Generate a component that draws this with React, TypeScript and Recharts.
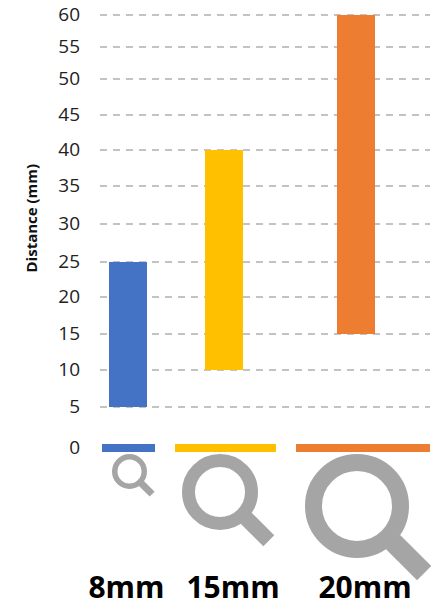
import { ComposedChart, Bar, Cell, XAxis, YAxis, CartesianGrid, ReferenceArea, ReferenceDot } from "recharts";

// tool sizes and their measured distance ranges (mm)
const toolNames = ["8mm", "15mm", "20mm"];
const lowValues = [5, 10, 15];
const highValues = [25, 40, 60];
const barColors = ["#4472C4", "#FFC000", "#ED7D31"];

// horizontal layout, in axis units from the left end of the gridlines
const barCenters = [28, 124, 256];
const stripStart = [2, 75, 196];
const stripEnd = [55, 176, 330];
const lensCenters = [29.5, 120, 257];
const labelCenters = [26.5, 133, 265];

const lensRadius = [14.75, 31.5, 43.5];
const lensRing = [5.5, 13, 17];
const handleEnd = [14.5, 31, 43];
const handleWidth = [7, 15.5, 20];

const yTicks = [0, 5, 10, 15, 20, 25, 30, 35, 40, 45, 50, 55, 60];
const gridValues = [5, 10, 15, 20, 25, 30, 35, 40, 45, 50, 55, 60];
// the axis is hand spaced, so each tick has its own pixel row
const tickRows = [448, 407, 370, 334, 297, 262, 224, 186, 150, 115, 79, 47, 15];

const chartData = toolNames.map((name, i) => ({
  name,
  pos: barCenters[i],
  range: [lowValues[i], highValues[i]],
}));

// piecewise axis scale running through the tick rows
function makeScale(): any {
  const toRow = (v: number) => {
    if (v <= yTicks[0]) return tickRows[0] - (v - yTicks[0]) * 8;
    for (let i = 1; i < yTicks.length; i++) {
      if (v <= yTicks[i]) {
        const t = (v - yTicks[i - 1]) / (yTicks[i] - yTicks[i - 1]);
        return tickRows[i - 1] + t * (tickRows[i] - tickRows[i - 1]);
      }
    }
    return tickRows[tickRows.length - 1];
  };
  const scale: any = (v: number) => toRow(v);
  let dom = [-1, 60];
  let rng = [448, 15];
  scale.domain = (d?: number[]) => (d ? ((dom = d), scale) : dom);
  scale.range = (r?: number[]) => (r ? ((rng = r), scale) : rng);
  scale.copy = () => makeScale();
  scale.ticks = () => yTicks;
  return scale;
}

function Magnifier({ cx, index }: any) {
  const row = 454;
  const r = lensRadius[index];
  const ring = lensRing[index];
  const outer = r + ring / 2;
  const cy = row + outer;
  const d = Math.SQRT1_2;
  const end = outer + handleEnd[index];
  return (
    <g>
      <line
        x1={cx + (outer - 1) * d}
        y1={cy + (outer - 1) * d}
        x2={cx + end * d}
        y2={cy + end * d}
        stroke="#A5A5A5"
        strokeWidth={handleWidth[index]}
      />
      <circle cx={cx} cy={cy} r={r} fill="none" stroke="#A5A5A5" strokeWidth={ring} />
    </g>
  );
}

function ToolLabel({ cx, index }: any) {
  return (
    <text x={cx} y={598} textAnchor="middle" fontFamily="'Open Sans', sans-serif" fontWeight={700} fontSize={30} fill="#000">
      {toolNames[index]}
    </text>
  );
}

export default function App() {
  return (
    <div style={{ position: "absolute", left: 0, top: 0, width: 441, height: 603, background: "#fff" }}>
      <ComposedChart
        width={441}
        height={603}
        data={chartData}
        margin={{ top: 15, right: 11, bottom: 155, left: 0 }}
        style={{ overflow: "visible" }}
      >
        <CartesianGrid
          vertical={false}
          horizontalValues={gridValues}
          stroke="#B0B0B0"
          strokeWidth={1.5}
          strokeDasharray="7 6"
        />
        <XAxis type="number" dataKey="pos" domain={[0, 330]} hide />
        <YAxis
          type="number"
          width={100}
          domain={[-1, 60]}
          scale={makeScale()}
          ticks={yTicks}
          interval={0}
          axisLine={false}
          tickLine={false}
          tickMargin={14}
          tick={{ fontSize: 19, fontFamily: "'Open Sans', sans-serif", fill: "#222", dy: -1 }}
          label={{
            value: "Distance (mm)",
            angle: -90,
            position: "insideLeft",
            fontSize: 15,
            fontWeight: 700,
            fontFamily: "'Open Sans', sans-serif",
            fill: "#111",
            dx: 27,
            dy: 41,
          }}
        />
        <Bar dataKey="range" barSize={38} isAnimationActive={false}>
          {toolNames.map((name, i) => (
            <Cell key={name} fill={barColors[i]} />
          ))}
        </Bar>
        {toolNames.map((name, i) => (
          <ReferenceArea
            key={name}
            x1={stripStart[i]}
            x2={stripEnd[i]}
            y1={-0.5}
            y2={0.5}
            fill={barColors[i]}
            fillOpacity={1}
            stroke="none"
            ifOverflow="visible"
          />
        ))}
        {toolNames.map((name, i) => (
          <ReferenceDot
            key={name}
            x={lensCenters[i]}
            y={0}
            ifOverflow="visible"
            shape={(p: any) => <Magnifier cx={p.cx} index={i} />}
          />
        ))}
        {toolNames.map((name, i) => (
          <ReferenceDot
            key={name}
            x={labelCenters[i]}
            y={0}
            ifOverflow="visible"
            shape={(p: any) => <ToolLabel cx={p.cx} index={i} />}
          />
        ))}
      </ComposedChart>
    </div>
  );
}
